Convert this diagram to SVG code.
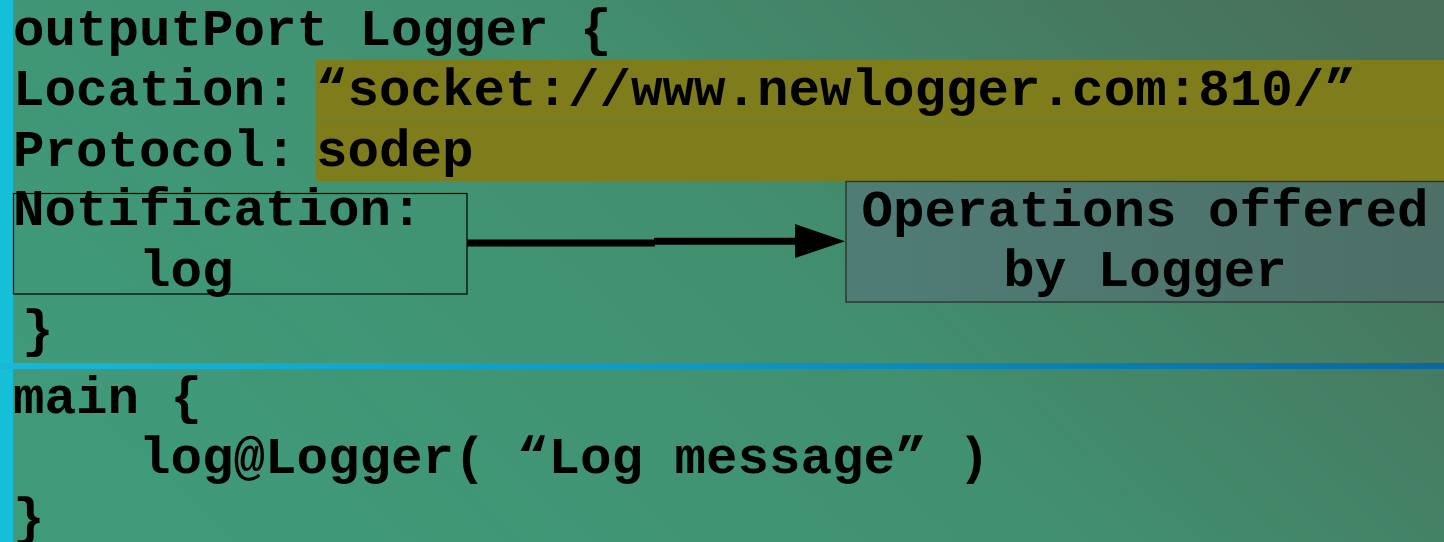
<svg xmlns="http://www.w3.org/2000/svg" width="1444" height="542" viewBox="0 0 1444 542">
  <defs>
    <linearGradient id="bg" x1="0" y1="0.6" x2="1" y2="0.2">
      <stop offset="0" stop-color="#3f9a79"/>
      <stop offset="0.5" stop-color="#419070"/>
      <stop offset="1" stop-color="#48705a"/>
    </linearGradient>
    <linearGradient id="rule" x1="0" y1="0" x2="1" y2="0">
      <stop offset="0" stop-color="#18b8d6"/>
      <stop offset="0.5" stop-color="#0d96c4"/>
      <stop offset="1" stop-color="#0a67a0"/>
    </linearGradient>
    <linearGradient id="opsFill" x1="0" y1="0" x2="1" y2="0">
      <stop offset="0" stop-color="#4f7d76"/>
      <stop offset="1" stop-color="#4c6f67"/>
    </linearGradient>
    <style>
      .code { font-family: "Liberation Mono", "Courier New", monospace; font-weight: bold; font-size: 52.5px; fill: #000; white-space: pre; }
      .box { fill: none; stroke: #000; stroke-width: 1.2; }
      .hl { fill: #7f7d1b; }
      .wire { fill: none; stroke: #000; stroke-width: 7; }
    </style>
  </defs>

  <!-- slide background -->
  <rect x="0" y="0" width="1444" height="542" fill="url(#bg)"/>
  <rect x="0" y="0" width="13" height="542" fill="#15bfd7"/>
  <rect x="0" y="363" width="1444" height="6" fill="url(#rule)"/>

  <!-- highlighted location / protocol values -->
  <g id="highlight">
    <rect class="hl" x="316" y="60" width="1128" height="60.5"/>
    <rect class="hl" x="316" y="120.5" width="1128" height="60.5"/>
    <line x1="316" y1="120.5" x2="1444" y2="120.5" stroke="#6f7f2c" stroke-width="1"/>
  </g>

  <!-- output port declaration -->
  <g id="port-decl">
    <text class="code" x="13" y="45">outputPort Logger {</text>
    <text class="code" x="13" y="105">Location:</text>
    <text class="code" x="316" y="105">“socket://www.newlogger.com:810/”</text>
    <text class="code" x="13" y="166">Protocol:</text>
    <text class="code" x="316" y="166">sodep</text>
    <text class="code" x="22" y="346">}</text>
  </g>

  <!-- notification block -->
  <g id="notification">
    <rect class="box" x="13.5" y="193.5" width="453.5" height="100.5"/>
    <text class="code" x="13" y="225">Notification:</text>
    <text class="code" x="139" y="286">log</text>
  </g>

  <!-- operations offered by Logger -->
  <g id="operations">
    <rect x="846" y="181.5" width="610" height="120.5" fill="url(#opsFill)" stroke="#2e3a36" stroke-width="1.5"/>
    <text class="code" x="1145" y="226" text-anchor="middle">Operations offered</text>
    <text class="code" x="1145" y="286" text-anchor="middle">by Logger</text>
  </g>

  <!-- main procedure -->
  <g id="main-body">
    <text class="code" x="13" y="413">main {</text>
    <text class="code" x="139" y="473">log@Logger( “Log message” )</text>
    <text class="code" x="13" y="534">}</text>
  </g>

  <!-- connector -->
  <g id="connectors">
    <polyline class="wire" points="467,243 655,243"/>
    <polyline class="wire" points="654,241.3 800,241.3"/>
    <polygon points="795,224 845,241.3 795,258" fill="#000"/>
  </g>
</svg>
